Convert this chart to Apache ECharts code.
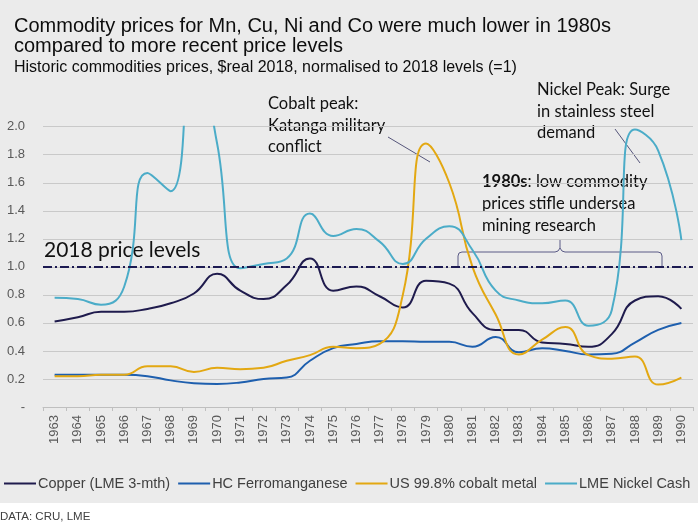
<!DOCTYPE html>
<html>
<head>
<meta charset="utf-8">
<script src="https://cdn.jsdelivr.net/npm/echarts@6/dist/echarts.min.js"></script>
<style>
	html, body { margin: 0; padding: 0; background: #fff; }
	#chart {
		width: 698px;
		height: 524px;
		background: linear-gradient(#ebebeb 0, #ebebeb 503px, #fff 503px);
	}
</style>
</head>
<body>
<div id="chart"></div>
<script>
//年份(横轴类目)
var years = ['1963', '1964', '1965', '1966', '1967', '1968', '1969', '1970', '1971', '1972',
	'1973', '1974', '1975', '1976', '1977', '1978', '1979', '1980', '1981', '1982',
	'1983', '1984', '1985', '1986', '1987', '1988', '1989', '1990'];

//各商品价格(2018 = 1)
var copper = [0.61, 0.64, 0.68, 0.68, 0.70, 0.74, 0.81, 0.95, 0.83, 0.77,
	0.87, 1.06, 0.83, 0.86, 0.79, 0.71, 0.90, 0.88, 0.67, 0.55,
	0.55, 0.46, 0.45, 0.43, 0.52, 0.76, 0.79, 0.70];
var ferroManganese = [0.23, 0.23, 0.23, 0.23, 0.22, 0.19, 0.17, 0.165, 0.175, 0.20,
	0.21, 0.33, 0.42, 0.45, 0.47, 0.47, 0.465, 0.465, 0.43, 0.50,
	0.39, 0.42, 0.40, 0.375, 0.38, 0.46, 0.55, 0.60];
var cobalt = [0.22, 0.22, 0.23, 0.23, 0.29, 0.29, 0.25, 0.28, 0.27, 0.28,
	0.33, 0.37, 0.43, 0.42, 0.45, 0.80, 1.88, 1.60, 1.00, 0.66,
	0.375, 0.48, 0.57, 0.37, 0.345, 0.36, 0.16, 0.21];
var nickel = [0.78, 0.77, 0.73, 0.86, 1.67, 1.54, 2.70, 1.88, 0.99, 1.02,
	1.06, 1.38, 1.22, 1.27, 1.18, 1.02, 1.20, 1.29, 1.12, 0.83,
	0.76, 0.74, 0.76, 0.58, 0.69, 1.98, 1.83, 1.19];

//图例名称
var seriesNames = ['Copper (LME 3-mth)', 'HC Ferromanganese', 'US 99.8% cobalt metal', 'LME Nickel Cash'];
var seriesColors = ['#1f1b4d', '#1e5fae', '#e3a812', '#4bacc8'];

//2018 价格水平
var priceLevel2018 = 1;

//纵轴范围
var yMin = 0;
var yMax = 2;
var yStep = 0.2;

var axisFont = 'Liberation Sans, Arial, sans-serif';
var noteFont = 'Lato, Noto Sans, sans-serif';
var noteSize = 16.5;

var makeSeries = function(idx, data) {
	var s = {
		name: seriesNames[idx],
		type: 'line',
		data: data,
		smooth: 0.5,
		symbol: 'none',
		lineStyle: {
			width: 2,
			color: seriesColors[idx]
		},
		itemStyle: {
			color: seriesColors[idx]
		}
	};
	return s;
};

var chart = echarts.init(document.getElementById('chart'), null, { renderer: 'canvas' });

var copperSeries = makeSeries(0, copper);
//2018价格水平参考线
copperSeries.markLine = {
	silent: true,
	symbol: 'none',
	label: { show: false },
	lineStyle: {
		color: '#1c1a52',
		width: 2,
		type: [9, 3, 2, 3]
	},
	data: [{ yAxis: priceLevel2018 }]
};

var noteStyle = function(text, lh) {
	return {
		text: text,
		font: noteSize + 'px ' + noteFont,
		lineHeight: lh,
		fill: '#111'
	};
};

var option = {
	animation: false,
	backgroundColor: 'transparent',
	color: seriesColors,
	title: {
		text: 'Commodity prices for Mn, Cu, Ni and Co were much lower in 1980s\ncompared to more recent price levels',
		subtext: 'Historic commodities prices, $real 2018, normalised to 2018 levels (=1)',
		left: 14,
		top: 16,
		padding: 0,
		itemGap: 4,
		textStyle: {
			fontFamily: axisFont,
			fontSize: 20,
			fontWeight: 'normal',
			lineHeight: 20,
			color: '#0d0d0d'
		},
		subtextStyle: {
			fontFamily: axisFont,
			fontSize: 16,
			lineHeight: 16,
			color: '#0d0d0d'
		}
	},
	legend: {
		data: seriesNames,
		left: 4,
		top: 476,
		padding: 0,
		icon: 'rect',
		itemWidth: 32,
		itemHeight: 2,
		itemGap: 8,
		textStyle: {
			fontFamily: axisFont,
			fontSize: 14.5,
			color: '#404040',
			padding: [0, 0, 0, -3]
		}
	},
	grid: {
		left: 43,
		right: 5,
		top: 126.7,
		bottom: 117,
		containLabel: false
	},
	xAxis: {
		type: 'category',
		data: years,
		boundaryGap: true,
		axisLine: {
			lineStyle: { color: '#bfbfbf', width: 1 }
		},
		axisTick: {
			show: true,
			length: 4,
			lineStyle: { color: '#bfbfbf' }
		},
		axisLabel: {
			interval: 0,
			rotate: 90,
			margin: 8,
			fontFamily: axisFont,
			fontSize: 13,
			color: '#595959'
		},
		splitLine: { show: false }
	},
	yAxis: {
		type: 'value',
		min: yMin,
		max: yMax,
		interval: yStep,
		axisLine: { show: false },
		axisTick: { show: false },
		axisLabel: {
			margin: 18,
			fontFamily: axisFont,
			fontSize: 13,
			color: '#595959',
			formatter: function(v) {
				return v === 0 ? '-' : v.toFixed(1);
			}
		},
		splitLine: {
			lineStyle: { color: '#c9c9c9', width: 1 }
		}
	},
	series: [
		copperSeries,
		makeSeries(1, ferroManganese),
		makeSeries(2, cobalt),
		makeSeries(3, nickel)
	],
	graphic: [{
		type: 'text',
		x: 44,
		y: 240,
		style: {
			text: '2018 price levels',
			font: '21px ' + noteFont,
			fill: '#111'
		}
	}, {
		type: 'text',
		x: 268,
		y: 93,
		style: noteStyle('Cobalt peak:\nKatanga military\nconflict', 21.5)
	}, {
		type: 'line',
		shape: { x1: 388, y1: 137, x2: 430, y2: 162 },
		style: { stroke: '#55557a', lineWidth: 1 }
	}, {
		type: 'text',
		x: 537,
		y: 79,
		style: noteStyle('Nickel Peak: Surge\nin stainless steel\ndemand', 21.5)
	}, {
		type: 'line',
		shape: { x1: 615, y1: 129, x2: 640, y2: 163 },
		style: { stroke: '#55557a', lineWidth: 1 }
	}, {
		type: 'text',
		x: 482,
		y: 171,
		style: {
			text: '{b|1980s}{n|: low commodity}\n{n|prices stifle undersea}\n{n|mining research}',
			font: noteSize + 'px ' + noteFont,
			fill: '#111',
			rich: {
				b: {
					fontFamily: noteFont,
					fontSize: noteSize,
					fontWeight: 'bold',
					lineHeight: 22,
					fill: '#111'
				},
				n: {
					fontFamily: noteFont,
					fontSize: noteSize,
					lineHeight: 22,
					fill: '#111'
				}
			}
		}
	}, {
		//括号左半
		type: 'polyline',
		shape: {
			points: [[458, 266], [458, 256], [459, 253], [462, 252], [555, 252], [558, 251], [560, 248], [560, 239]]
		},
		style: { stroke: '#5a5a86', lineWidth: 1, fill: null }
	}, {
		//括号右半
		type: 'polyline',
		shape: {
			points: [[560, 248], [562, 251], [565, 252], [658, 252], [661, 253], [662, 256], [662, 266]]
		},
		style: { stroke: '#5a5a86', lineWidth: 1, fill: null }
	}, {
		type: 'text',
		x: 0,
		y: 511,
		style: {
			text: 'DATA: CRU, LME',
			font: '11.5px ' + axisFont,
			fill: '#404040'
		}
	}]
};

chart.setOption(option);
</script>
</body>
</html>
